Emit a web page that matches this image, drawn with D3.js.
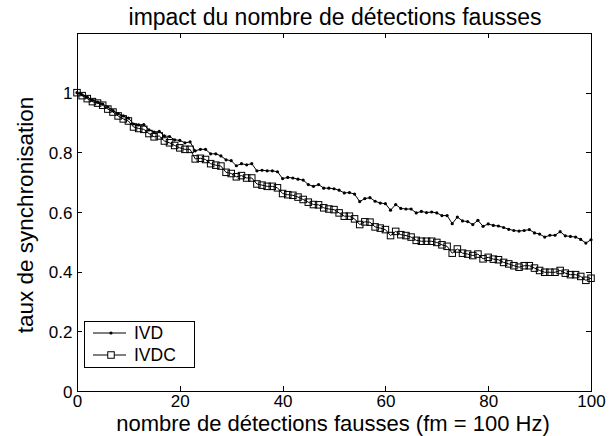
<!DOCTYPE html>
<html><head><meta charset="utf-8">
<script src="https://cdn.jsdelivr.net/npm/d3@7"></script>
<style>body{margin:0;background:#fff}svg{display:block}text{font-family:"Liberation Sans",Arial,sans-serif;fill:#000}</style>
</head><body><svg id="c" width="616" height="436"></svg>
<script>
const xValues = d3.range(0, 101);
const ivd = [1.000,0.993,0.985,0.975,0.968,0.962,0.952,0.940,0.930,0.922,
0.915,0.895,0.892,0.893,0.875,0.868,0.870,0.855,0.853,0.842,
0.840,0.832,0.835,0.805,0.810,0.810,0.795,0.795,0.788,0.775,
0.772,0.755,0.762,0.758,0.762,0.738,0.740,0.738,0.738,0.735,
0.712,0.716,0.714,0.710,0.707,0.692,0.686,0.692,0.680,0.680,
0.678,0.673,0.664,0.665,0.660,0.635,0.645,0.648,0.636,0.630,
0.628,0.606,0.625,0.612,0.610,0.610,0.597,0.602,0.598,0.600,
0.597,0.588,0.588,0.561,0.583,0.570,0.568,0.558,0.572,0.552,
0.560,0.555,0.553,0.548,0.542,0.538,0.536,0.538,0.541,0.530,
0.526,0.516,0.522,0.522,0.534,0.520,0.518,0.516,0.508,0.496,0.507];
const ivdc = [1.000,0.990,0.980,0.970,0.965,0.958,0.945,0.935,0.922,0.912,
0.905,0.885,0.880,0.877,0.863,0.852,0.855,0.838,0.832,0.823,
0.815,0.810,0.810,0.778,0.780,0.776,0.762,0.757,0.754,0.733,
0.729,0.718,0.722,0.714,0.714,0.694,0.690,0.686,0.686,0.681,
0.662,0.658,0.656,0.650,0.642,0.633,0.625,0.624,0.614,0.610,
0.608,0.597,0.586,0.586,0.577,0.558,0.567,0.566,0.550,0.546,
0.541,0.521,0.535,0.524,0.521,0.516,0.505,0.502,0.502,0.502,
0.498,0.490,0.485,0.462,0.476,0.462,0.459,0.454,0.459,0.443,
0.448,0.442,0.440,0.431,0.426,0.420,0.415,0.420,0.420,0.412,
0.404,0.398,0.398,0.398,0.404,0.395,0.390,0.390,0.384,0.371,0.378];
const xTicks = [0,20,40,60,80,100];
const yTicks = [0,0.2,0.4,0.6,0.8,1];
const seriesNames = ["IVD","IVDC"];

const L=77,R=591,T=33,B=391;
const svg=d3.select("#c");
const x=d3.scaleLinear().domain([0,100]).range([L,R]);
const y=d3.scaleLinear().domain([0,1.2]).range([B,T]);

svg.append("rect").attr("x",L).attr("y",T).attr("width",R-L).attr("height",B-T)
 .attr("fill","none").attr("stroke","#000").attr("stroke-width",1).attr("shape-rendering","crispEdges");

const tl=5;
const axB=svg.append("g").attr("transform",`translate(0,${B})`).call(d3.axisBottom(x).tickValues(xTicks).tickSizeInner(-tl).tickSizeOuter(0).tickPadding(4).tickFormat(d3.format("d")));
const axT=svg.append("g").attr("transform",`translate(0,${T})`).call(d3.axisTop(x).tickValues(xTicks).tickSizeInner(-tl).tickSizeOuter(0).tickFormat(""));
const axL=svg.append("g").attr("transform",`translate(${L},0)`).call(d3.axisLeft(y).tickValues(yTicks).tickSizeInner(-tl).tickSizeOuter(0).tickPadding(4.5).tickFormat(d=>d3.format("")(+d.toFixed(1))));
const axR=svg.append("g").attr("transform",`translate(${R},0)`).call(d3.axisRight(y).tickValues(yTicks).tickSizeInner(-tl).tickSizeOuter(0).tickFormat(""));
[axB,axT,axL,axR].forEach(a=>{a.select(".domain").remove();a.selectAll("line").attr("stroke","#000").attr("shape-rendering","crispEdges");
 a.selectAll("text").style("font-size","17px").style("font-family","'Liberation Sans',Arial,sans-serif").attr("fill","#000");});
axL.selectAll("text").attr("dy","0.36em");

const line=d3.line().x((d,i)=>x(xValues[i])).y(d=>y(d));
svg.append("path").datum(ivd).attr("d",line).attr("fill","none").attr("stroke","#000").attr("stroke-width",1);
svg.append("path").datum(ivdc).attr("d",line).attr("fill","none").attr("stroke","#000").attr("stroke-width",1);
svg.append("g").selectAll("circle").data(ivd).join("circle")
 .attr("cx",(d,i)=>x(xValues[i])).attr("cy",d=>y(d)).attr("r",1.6).attr("fill","#000");
const s=6.5;
svg.append("g").selectAll("rect").data(ivdc).join("rect")
 .attr("x",(d,i)=>x(xValues[i])-s/2).attr("y",d=>y(d)-s/2).attr("width",s).attr("height",s)
 .attr("fill","none").attr("stroke","#000").attr("stroke-width",1);

const lg=svg.append("g");
lg.append("rect").attr("x",84.5).attr("y",321.5).attr("width",110).attr("height",46)
 .attr("fill","#fff").attr("stroke","#000").attr("stroke-width",1).attr("shape-rendering","crispEdges");
const ly=[333,355];
seriesNames.forEach((n,i)=>{
 lg.append("line").attr("x1",93).attr("x2",126).attr("y1",ly[i]).attr("y2",ly[i]).attr("stroke","#000");
 if(i===0) lg.append("circle").attr("cx",111).attr("cy",ly[i]).attr("r",1.6).attr("fill","#000");
 else lg.append("rect").attr("x",111-s/2).attr("y",ly[i]-s/2).attr("width",s).attr("height",s).attr("fill","#fff").attr("stroke","#000");
 lg.append("text").attr("x",134).attr("y",ly[i]).attr("dy","0.36em").style("font-size","17.5px").text(n);
});

svg.append("text").attr("x",(L+R)/2+1).attr("y",25).attr("text-anchor","middle").style("font-size","23px").text("impact du nombre de détections fausses");
svg.append("text").attr("x",(L+R)/2-1).attr("y",431).attr("text-anchor","middle").style("font-size","22px").text("nombre de détections fausses (fm = 100 Hz)");
svg.append("text").attr("transform",`translate(33,${(T+B)/2+3}) rotate(-90)`).attr("text-anchor","middle").style("font-size","22.5px").text("taux de synchronisation");
</script></body></html>
